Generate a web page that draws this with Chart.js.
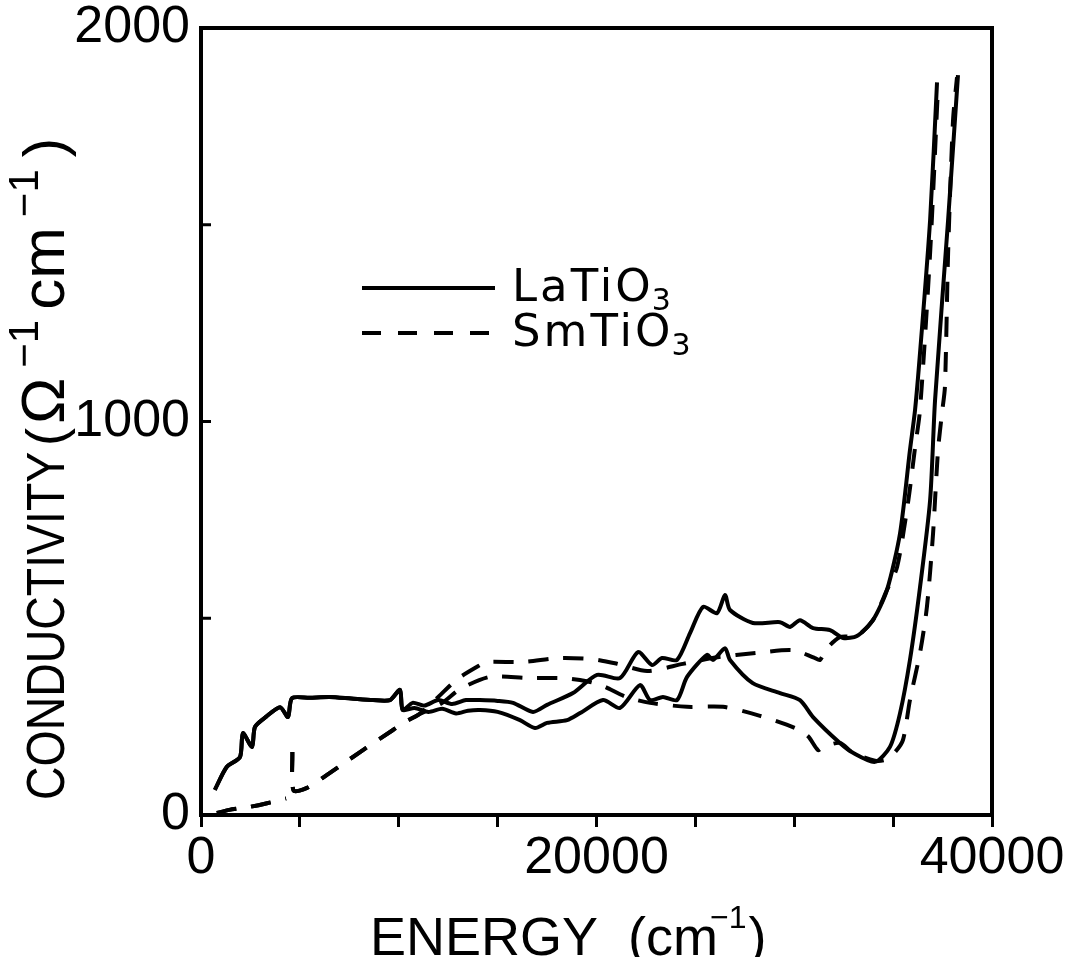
<!DOCTYPE html>
<html><head><meta charset="utf-8">
<script src="https://cdn.jsdelivr.net/npm/chart.js@4/dist/chart.umd.min.js"></script>
<style>html,body{margin:0;padding:0;background:#fff;}#wrap{width:1070px;height:957px;}</style>
</head><body><div id="wrap"><canvas id="c" width="1070" height="957"></canvas></div>
<script>
// ---- data (energy in cm^-1, conductivity in Ohm^-1 cm^-1) ----
const laLowX = [700,1300,1970,2120,2580,2730,3300,4000,4400,4600,5500,6500,7600,8700,9560,10060,10200];
const laLowY = [64,122,147,208,173,224,250,274,249,297,298,300,296,292,292,318,267];
const laAX = [10700,11300,12000,12700,13400,14100,15000,15780,16790,17500,18810,20030,21190,22100,22810,23310,24070,24730,25390,26090,26500,26750,27910,29280,29790,30290,30950,31810,32470,33170,33980,34690,35350,35850,36110,36360,36870,37220];
const laAY = [285,278,292,282,292,292,290,285,262,280,310,356,348,414,381,399,394,462,529,513,559,521,488,490,478,495,475,470,450,455,495,572,716,927,1030,1174,1512,1862];
const laBX = [10800,11500,12200,12900,13500,14110,15000,16130,16890,17500,18510,19170,20330,21190,22200,22710,23360,24070,24580,25590,25890,26500,26750,27900,29280,30290,30950,32310,32970,34080,34840,35350,35850,36360,36870,37120,37780,38280];
const laBY = [272,262,270,258,265,267,262,241,221,234,241,259,292,272,330,292,300,292,351,407,394,424,394,335,310,292,249,183,158,135,173,259,394,579,800,1054,1512,1880];
const smLowX = [800,1430,2400,3340,4300,null,4620,4680,5360,6520,8190,9710,10220,11000];
const smLowY = [5,13,20,30,42,null,160,62,69,107,165,216,234,255];
const smAX = [12000,12950,14110,14460,16280,18150,19820,21000,22560,24370,26000,28120,29940,31000,31300,31600,32300,33170,33980,34690,35200,35750,36100,36360,36870,37270];
const smAY = [300,345,381,389,389,399,396,385,366,384,400,412,419,400,394,420,452,455,495,572,630,793,930,1030,1428,1850];
const smBX = [12200,13100,14610,16490,18310,19500,20330,21500,22710,24580,26400,28270,30040,30700,31200,31450,32310,32970,34080,34600,35100,35500,35850,36360,36710,37020,37270,37470,37620,37780,38030,38230];
const smBY = [285,320,351,348,348,340,328,300,285,275,275,252,221,200,165,173,183,158,138,140,160,191,292,412,529,716,927,1021,1088,1428,1766,1875];
const xTickLabels = [0, 20000, 40000];
const yTickLabels = [0, 1000, 2000];
const seriesNames = ['LaTiO', 'SmTiO'];

function pts(xs, ys){ return xs.map((x,i)=> x===null ? {x: (xs[i-1]+xs[i+1])/2, y: null} : {x:x, y:ys[i]}); }
const FONT = '"Liberation Sans", Arial, sans-serif';
const LFONT = '"DejaVu Sans", sans-serif';

const solidStyle = {borderColor:'#000', borderWidth:4, pointRadius:0, showLine:true, fill:false, tension:0.25, spanGaps:false};
const dashStyle = Object.assign({}, solidStyle, {borderDash:[20,15]});

const datasets = [
  Object.assign({label:'LaTiO3 a', data: pts(laLowX.concat(laAX), laLowY.concat(laAY))}, solidStyle),
  Object.assign({label:'LaTiO3 b', data: pts(laLowX.concat(laBX), laLowY.concat(laBY))}, solidStyle),
  Object.assign({label:'SmTiO3 a', data: pts(smLowX.concat(smAX), smLowY.concat(smAY))}, dashStyle),
  Object.assign({label:'SmTiO3 b', data: pts(smLowX.concat(smBX), smLowY.concat(smBY))}, dashStyle)
];

function richText(ctx, x, y, segs, fam){
  let cx = x;
  segs.forEach(s=>{
    ctx.font = s.size + 'px ' + (fam || FONT);
    if (s.at !== undefined) cx = x + s.at;
    ctx.fillText(s.t, cx, y + (s.dy||0));
    cx += ctx.measureText(s.t).width + (s.gap||0);
  });
  return cx;
}

const decor = {
  id:'decor',
  afterDraw(chart){
    const ctx = chart.ctx, a = chart.chartArea;
    const ys = chart.scales.y;
    ctx.save();
    // frame
    ctx.strokeStyle = '#000'; ctx.lineWidth = 4;
    ctx.strokeRect(a.left, a.top, a.right - a.left, a.bottom - a.top);
    // inward y ticks
    ctx.lineWidth = 3;
    for (let v = 500; v < 2000; v += 500){
      const py = ys.getPixelForValue(v);
      ctx.beginPath(); ctx.moveTo(a.left, py); ctx.lineTo(a.left + 10, py); ctx.stroke();
    }
    ctx.fillStyle = '#000';
    ctx.textBaseline = 'alphabetic'; ctx.textAlign = 'left';
    ctx.letterSpacing = '0px';
    // x title
    richText(ctx, 370, 955, [
      {t:'ENERGY', size:54},
      {t:'  (cm', size:54, gap:-8},
      {t:'\u22121', size:32, dy:-27, gap:2},
      {t:')', size:54}
    ]);
    // y title
    ctx.save();
    ctx.translate(64, 800); ctx.rotate(-Math.PI/2);
    ctx.save(); ctx.scale(0.86,1);
    ctx.font = '54px ' + FONT;
    ctx.fillText('CONDUCTIVITY', 0, 0);
    ctx.restore();
    richText(ctx, 0, 0, [
      {t:'(', size:54, at:354, gap:4},
      {t:'\u03A9', size:62, gap:10},
      {t:'\u22121', size:42, dy:-26, gap:10},
      {t:'cm', size:62, gap:10},
      {t:'\u22121', size:42, dy:-26, gap:12},
      {t:')', size:58}
    ]);
    ctx.restore();
    // legend
    const ly = [288, 333];
    ctx.lineWidth = 4;
    ly.forEach((yy,i)=>{
      ctx.setLineDash(i===0 ? [] : [19,17]);
      ctx.beginPath(); ctx.moveTo(362, yy); ctx.lineTo(495, yy); ctx.stroke();
      ctx.setLineDash([]);
      ctx.letterSpacing = '3px';
      richText(ctx, 512, yy + 13, [
        {t: seriesNames[i], size:45, gap:-2},
        {t:'3', size:30, dy:9}
      ], LFONT);
      ctx.letterSpacing = '0px';
    });
    ctx.restore();
  }
};

new Chart(document.getElementById('c'), {
  type:'scatter',
  data:{datasets},
  options:{
    responsive:false, animation:false, devicePixelRatio:1,
    layout:{padding:{top:28, right:78, left:0, bottom:0}},
    plugins:{legend:{display:false}, tooltip:{enabled:false}},
    scales:{
      x:{
        type:'linear', min:0, max:40000,
        border:{display:false},
        grid:{drawOnChartArea:false, drawTicks:true, tickLength:12, tickWidth:3, tickColor:'#000'},
        ticks:{stepSize:5000, color:'#000', padding:0, maxRotation:0, autoSkip:false,
          font:{family:FONT, size:52},
          callback:(v)=> xTickLabels.includes(v) ? String(v) : ''},
        afterFit:(s)=>{ s.height = 142; s.paddingLeft = 0; s.paddingRight = 0; }
      },
      y:{
        type:'linear', min:0, max:2000,
        border:{display:false},
        grid:{drawOnChartArea:false, drawTicks:false},
        ticks:{stepSize:500, color:'#000', padding:11, autoSkip:false,
          font:{family:FONT, size:52},
          callback:(v)=> yTickLabels.includes(v) ? String(v) : ''},
        afterFit:(s)=>{ s.width = 201; s.paddingTop = 0; s.paddingBottom = 0; }
      }
    }
  },
  plugins:[decor]
});
</script>
</body></html>
